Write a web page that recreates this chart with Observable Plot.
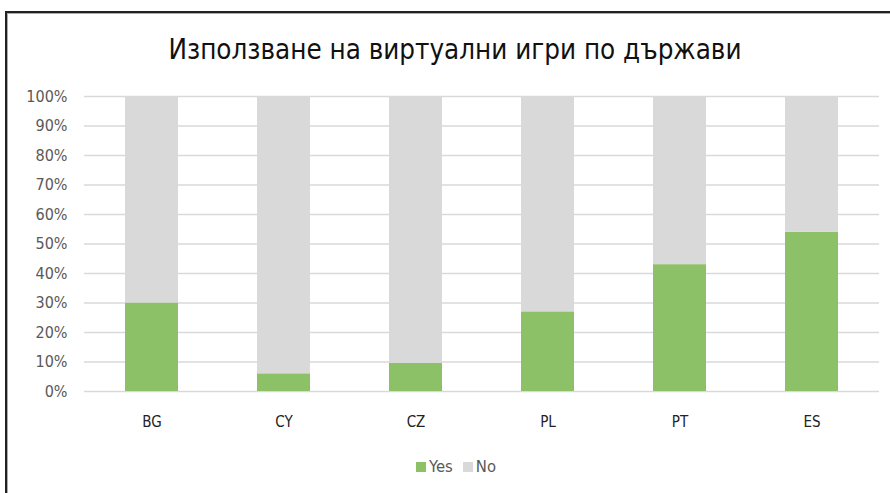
<!DOCTYPE html>
<html>
<head>
<meta charset="utf-8">
<script src="https://cdn.jsdelivr.net/npm/d3@7"></script>
<script src="https://cdn.jsdelivr.net/npm/@observablehq/plot@0.6"></script>
<style>
  html, body { margin: 0; padding: 0; background: #fff; width: 890px; height: 493px; overflow: hidden; }
  #frame { position: absolute; left: 5px; top: 11px; width: 900px; height: 500px; border-left: 2px solid #222; border-top: 2px solid #222; box-shadow: inset 1px 1px 0 #aaa; }
  #title { position: absolute; left: 0; width: 910px; top: 33px; text-align: center; font-family: "DejaVu Sans Condensed", "Open Sans", sans-serif; font-size: 27.5px; color: #111; }
  #chart { position: absolute; left: 0; top: 80px; }
  #legend { position: absolute; left: 0; width: 912px; top: 457px; text-align: center; font-family: "DejaVu Sans Condensed", "Open Sans", sans-serif; font-size: 16.5px; color: #595959; }
  #legend .sw { display: inline-block; width: 10px; height: 10px; margin-right: 3px; vertical-align: 0px; }
  #legend .item { margin: 0 5px; }
</style>
</head>
<body>
<div id="frame"></div>
<div id="title">Използване на виртуални игри по държави</div>
<div id="chart"></div>
<div id="legend"></div>
<script>
const countries = ["BG", "CY", "CZ", "PL", "PT", "ES"];
const yesValues = [30, 6, 9.5, 27, 43, 54];
const noValues = [70, 94, 90.5, 73, 57, 46];
const seriesNames = ["Yes", "No"];
const seriesColors = ["#8cc168", "#d9d9d9"];
const yTicks = [0, 10, 20, 30, 40, 50, 60, 70, 80, 90, 100];

const rows = [];
countries.forEach((c, i) => {
  rows.push({country: c, series: "Yes", value: yesValues[i]});
  rows.push({country: c, series: "No", value: noValues[i]});
});

const font = '"DejaVu Sans Condensed", "Open Sans", sans-serif';

const plot = Plot.plot({
  width: 890,
  height: 360,
  marginLeft: 84,
  marginRight: 11,
  marginTop: 16,
  marginBottom: 49,
  style: {fontFamily: font, fontSize: "14px", background: "transparent"},
  x: {domain: countries, paddingInner: 0.6, paddingOuter: 0.3, label: null},
  y: {domain: [0, 100], label: null},
  color: {domain: seriesNames, range: seriesColors},
  marks: [
    Plot.ruleY(yTicks, {stroke: "#d9d9d9", strokeWidth: 1.3}),
    Plot.barY(rows, {x: "country", y: "value", fill: "series", order: seriesNames}),
    Plot.axisY({ticks: yTicks, tickFormat: d => d + "%", tickSize: 0, tickPadding: 17, fill: "#595959", label: null, fontSize: 16}),
    Plot.axisX({tickSize: 0, tickPadding: 25, fill: "#222", label: null, fontSize: 15})
  ]
});
document.getElementById("chart").appendChild(plot);

const legend = document.getElementById("legend");
seriesNames.forEach((s, i) => {
  const item = document.createElement("span");
  item.className = "item";
  const sw = document.createElement("span");
  sw.className = "sw";
  sw.style.background = seriesColors[i];
  item.appendChild(sw);
  item.appendChild(document.createTextNode(s));
  legend.appendChild(item);
});
</script>
</body>
</html>
